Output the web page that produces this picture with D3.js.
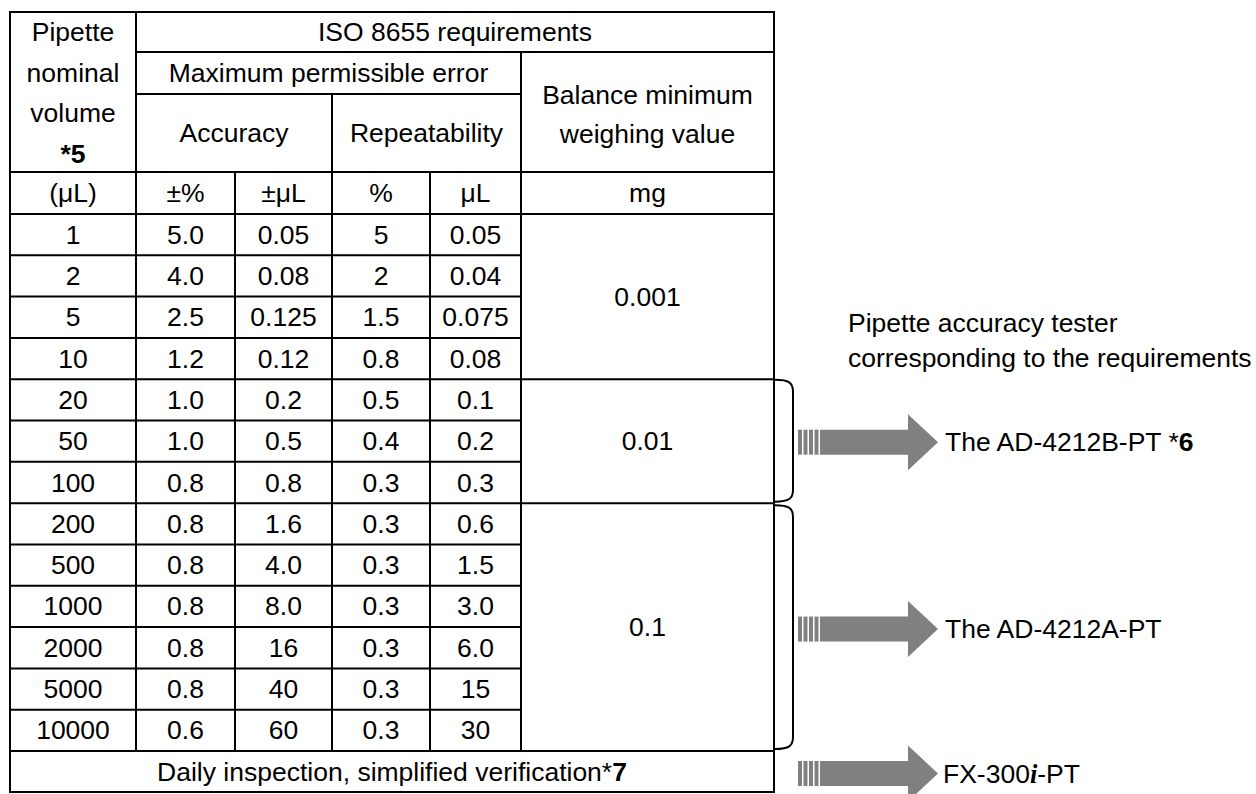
<!DOCTYPE html>
<html>
<head>
<meta charset="utf-8">
<script src="https://cdn.jsdelivr.net/npm/d3@7"></script>
<style>
  html, body { margin: 0; padding: 0; background: #fff; }
  svg { display: block; }
  text { font-family: "Liberation Sans", Arial, sans-serif; fill: #000; }
</style>
</head>
<body>
<svg id="chart" width="1256" height="794"></svg>
<script>
// ---------- data ----------
const volumes = ["1", "2", "5", "10", "20", "50", "100", "200", "500", "1000", "2000", "5000", "10000"];
const accuracyPct = ["5.0", "4.0", "2.5", "1.2", "1.0", "1.0", "0.8", "0.8", "0.8", "0.8", "0.8", "0.8", "0.6"];
const accuracyUl = ["0.05", "0.08", "0.125", "0.12", "0.2", "0.5", "0.8", "1.6", "4.0", "8.0", "16", "40", "60"];
const repeatPct = ["5", "2", "1.5", "0.8", "0.5", "0.4", "0.3", "0.3", "0.3", "0.3", "0.3", "0.3", "0.3"];
const repeatUl = ["0.05", "0.04", "0.075", "0.08", "0.1", "0.2", "0.3", "0.6", "1.5", "3.0", "6.0", "15", "30"];
const unitLabels = ["(\u03bcL)", "\u00b1%", "\u00b1\u03bcL", "%", "\u03bcL", "mg"];
const balanceValues = ["0.001", "0.01", "0.1"];
const balanceStart = [0, 4, 7];
const balanceEnd = [4, 7, 13];
const testerNames = ["The AD-4212B-PT", "The AD-4212A-PT", "FX-300i-PT"];
const footerText = "Daily inspection, simplified verification";

// ---------- layout ----------
const svg = d3.select("#chart");
const FS = 26.5;
const colX = [10, 136, 235, 332, 430, 521, 774];
const headY = [12, 52, 94, 172, 214];
const y = d3.scaleLinear().domain([0, volumes.length]).range([214, 751]);
const footBottom = 792;
const rowMid = i => (y(i) + y(i + 1)) / 2;
const colMid = j => (colX[j] + colX[j + 1]) / 2;

const lines = svg.append("g").attr("stroke", "#000").attr("stroke-width", 2).attr("stroke-linecap", "square");
function hl(x1, x2, yy) { lines.append("line").attr("x1", x1).attr("x2", x2).attr("y1", yy).attr("y2", yy); }
function vl(xx, y1, y2) { lines.append("line").attr("x1", xx).attr("x2", xx).attr("y1", y1).attr("y2", y2); }

// outer border
lines.append("rect").attr("x", colX[0]).attr("y", headY[0]).attr("width", colX[6] - colX[0]).attr("height", footBottom - headY[0]).attr("fill", "none");
// header lines
hl(colX[1], colX[6], headY[1]);
hl(colX[1], colX[5], headY[2]);
hl(colX[0], colX[6], headY[3]);
hl(colX[0], colX[6], headY[4]);
vl(colX[1], headY[0], y(volumes.length));
vl(colX[3], headY[2], y(volumes.length));
vl(colX[2], headY[3], y(volumes.length));
vl(colX[4], headY[3], y(volumes.length));
vl(colX[5], headY[1], y(volumes.length));
// data row lines
volumes.forEach((v, i) => {
  if (i === 0) return;
  const full = balanceStart.includes(i);
  hl(colX[0], full ? colX[6] : colX[5], y(i));
});
hl(colX[0], colX[6], y(volumes.length));

// text helper
function txt(x, yy, s, opts = {}) {
  return svg.append("text").attr("x", x).attr("y", yy).attr("text-anchor", opts.anchor || "middle")
    .attr("dominant-baseline", "central").attr("font-size", opts.size || FS).text(s);
}

// header texts
["Pipette", "nominal", "volume"].forEach((s, k) => txt(colMid(0), 32 + k * 40.5, s));
txt(colMid(0), 154, "*5").attr("font-weight", "bold");
txt((colX[1] + colX[6]) / 2, (headY[0] + headY[1]) / 2, "ISO 8655 requirements");
txt((colX[1] + colX[5]) / 2, (headY[1] + headY[2]) / 2, "Maximum permissible error");
txt((colX[1] + colX[3]) / 2, (headY[2] + headY[3]) / 2, "Accuracy");
txt((colX[3] + colX[5]) / 2, (headY[2] + headY[3]) / 2, "Repeatability");
txt(colMid(5), 95, "Balance minimum");
txt(colMid(5), 134, "weighing value");
unitLabels.forEach((s, j) => txt(colMid(j), (headY[3] + headY[4]) / 2, s));

// data cells
const cols = [volumes, accuracyPct, accuracyUl, repeatPct, repeatUl];
cols.forEach((arr, j) => {
  svg.append("g").selectAll("text").data(arr).join("text")
    .attr("x", colMid(j)).attr("y", (d, i) => rowMid(i))
    .attr("text-anchor", "middle").attr("dominant-baseline", "central")
    .attr("font-size", FS).text(d => d);
});
balanceValues.forEach((s, k) => txt(colMid(5), (y(balanceStart[k]) + y(balanceEnd[k])) / 2, s));

// footer (centered over full table width)
const foot = txt((colX[0] + colX[6]) / 2, (y(volumes.length) + footBottom) / 2, "");
foot.append("tspan").text(footerText + "*");
foot.append("tspan").attr("font-weight", "bold").text("7");

// braces
function brace(top, bot) {
  const x0 = colX[6] + 1, x1 = 793;
  const p = d3.path();
  p.moveTo(x0, top);
  p.bezierCurveTo(x1 - 4, top, x1, top + 3, x1, top + 12);
  p.lineTo(x1, bot - 12);
  p.bezierCurveTo(x1, bot - 3, x1 - 4, bot, x0, bot);
  svg.append("path").attr("d", p.toString()).attr("fill", "none").attr("stroke", "#000").attr("stroke-width", 2);
}
brace(y(4) + 0.5, y(7) - 1.5);
brace(y(7) + 2, y(13) - 2);

// arrows
function arrow(cy) {
  const g = svg.append("g").attr("fill", "#808080");
  const sx = 798;
  for (let k = 0; k < 4; k++) g.append("rect").attr("x", sx + k * 5.5).attr("y", cy - 12.5).attr("width", 4).attr("height", 25);
  const bx = sx + 22;
  g.append("path").attr("d", `M${bx},${cy - 12.5}L908,${cy - 12.5}L908,${cy - 28}L938,${cy}L908,${cy + 28}L908,${cy + 12.5}L${bx},${cy + 12.5}Z`);
}
const arrowY = [(y(4) + y(7)) / 2 + 1, (y(7) + y(13)) / 2 + 2, (y(13) + footBottom) / 2 + 2];
arrowY.forEach(cy => arrow(cy));

// tester labels
const t1 = txt(945, arrowY[0], "", { anchor: "start" });
t1.append("tspan").text(testerNames[0] + " *");
t1.append("tspan").attr("font-weight", "bold").text("6");
txt(945, arrowY[1], testerNames[1], { anchor: "start" });
const t3 = txt(943, arrowY[2], "", { anchor: "start" });
t3.append("tspan").text("FX-300");
t3.append("tspan").attr("font-family", "'Liberation Serif', serif").attr("font-style", "italic").attr("font-weight", "bold").text("i");
t3.append("tspan").text("-PT");

// caption
txt(848, 323, "Pipette accuracy tester", { anchor: "start" });
txt(848, 358, "corresponding to the requirements", { anchor: "start" });
</script>
</body>
</html>
